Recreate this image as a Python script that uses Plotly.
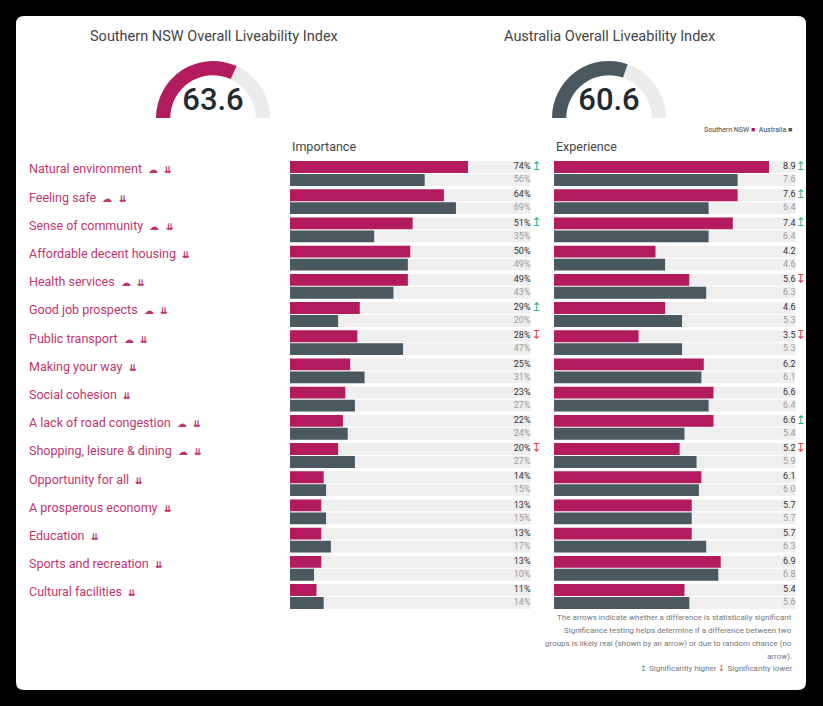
import plotly.graph_objects as go

categories = ["Natural environment", "Feeling safe", "Sense of community", "Affordable decent housing",
              "Health services", "Good job prospects", "Public transport", "Making your way",
              "Social cohesion", "A lack of road congestion", "Shopping, leisure & dining",
              "Opportunity for all", "A prosperous economy", "Education", "Sports and recreation",
              "Cultural facilities"]
has_brain = [1, 1, 1, 0, 1, 1, 1, 0, 0, 1, 1, 0, 0, 0, 0, 0]

imp_nsw = [74, 64, 51, 50, 49, 29, 28, 25, 23, 22, 20, 14, 13, 13, 13, 11]
imp_aus = [56, 69, 35, 49, 43, 20, 47, 31, 27, 24, 27, 15, 15, 17, 10, 14]
exp_nsw = [8.9, 7.6, 7.4, 4.2, 5.6, 4.6, 3.5, 6.2, 6.6, 6.6, 5.2, 6.1, 5.7, 5.7, 6.9, 5.4]
exp_aus = [7.6, 6.4, 6.4, 4.6, 6.3, 5.3, 5.3, 6.1, 6.4, 5.4, 5.9, 6.0, 5.7, 6.3, 6.8, 5.6]
imp_sig = ["up", "", "up", "", "", "up", "down", "", "", "", "down", "", "", "", "", ""]
exp_sig = ["up", "up", "up", "", "down", "", "down", "", "", "up", "down", "", "", "", "", ""]

index_nsw = 63.6
index_aus = 60.6

PINK = "#b31b5f"
GREY = "#4a5860"
TRACK = "#efefef"
UP = "#2bb389"
DOWN = "#d9434b"
W, H = 823, 706

def px(x):
    return x / W

def py(y):
    return 1 - y / H

n = len(categories)
y_top = [i - 0.23 for i in range(n)]
y_bot = [i + 0.23 for i in range(n)]

fig = go.Figure()

# panels: importance (x/y) and experience (x2/y2)
panels = [("x", "y", imp_nsw, imp_aus, imp_sig, 100, "{:.0f}%", 102.4),
          ("x2", "y2", exp_nsw, exp_aus, exp_sig, 10, "{:.1f}", 10.2)]
for xa, ya, nsw, aus, sig, full, fmt, arrow_x in panels:
    fig.add_trace(go.Bar(x=[full] * (2 * n), y=y_top + y_bot, orientation="h", width=0.42,
                         marker=dict(color=TRACK, line_width=0), xaxis=xa, yaxis=ya,
                         hoverinfo="skip"))
    fig.add_trace(go.Bar(x=nsw, y=y_top, orientation="h", width=0.42, name="Southern NSW",
                         marker=dict(color=PINK, line_width=0), xaxis=xa, yaxis=ya))
    fig.add_trace(go.Bar(x=aus, y=y_bot, orientation="h", width=0.42, name="Australia",
                         marker=dict(color=GREY, line_width=0), xaxis=xa, yaxis=ya))
    fig.add_trace(go.Scatter(x=[full] * n, y=y_top, mode="text", text=[fmt.format(v) for v in nsw],
                             textposition="middle left", cliponaxis=False,
                             textfont=dict(size=9, color="#333", family="Roboto"),
                             xaxis=xa, yaxis=ya, hoverinfo="skip"))
    fig.add_trace(go.Scatter(x=[full] * n, y=y_bot, mode="text", text=[fmt.format(v) for v in aus],
                             textposition="middle left", cliponaxis=False,
                             textfont=dict(size=9, color="#9a9a9a", family="Roboto"),
                             xaxis=xa, yaxis=ya, hoverinfo="skip"))
    ups = [y for y, s in zip(y_top, sig) if s == "up"]
    downs = [y for y, s in zip(y_top, sig) if s == "down"]
    fig.add_trace(go.Scatter(x=[arrow_x] * len(ups), y=ups, mode="text", text=["↥"] * len(ups),
                             textposition="middle center", cliponaxis=False,
                             textfont=dict(size=12, color=UP, family="DejaVu Sans"),
                             xaxis=xa, yaxis=ya, hoverinfo="skip"))
    fig.add_trace(go.Scatter(x=[arrow_x] * len(downs), y=downs, mode="text", text=["↧"] * len(downs),
                             textposition="middle center", cliponaxis=False,
                             textfont=dict(size=12, color=DOWN, family="DejaVu Sans"),
                             xaxis=xa, yaxis=ya, hoverinfo="skip"))

# gauges
for val, col, xd in [(index_nsw, PINK, [px(156), px(270)]), (index_aus, GREY, [px(552), px(666)])]:
    fig.add_trace(go.Indicator(
        mode="gauge+number", value=val,
        number=dict(font=dict(size=31, color="#1f2b30", family="Roboto", weight=500)),
        gauge=dict(shape="angular", axis=dict(range=[0, 100], visible=False),
                   bar=dict(color=col, thickness=1), bgcolor="#ebebeb", borderwidth=0),
        domain=dict(x=xd, y=[py(118), py(61)])))

y_range = [n - 1 + 0.6, -0.6]
y_dom = [py(596.5 + 0.6 * 28.2), py(173.5 - 0.6 * 28.2)]
fig.update_layout(
    width=W, height=H, margin=dict(l=0, r=0, t=0, b=0),
    paper_bgcolor="#000", plot_bgcolor="rgba(0,0,0,0)",
    barmode="overlay", showlegend=False, font=dict(family="Roboto"),
    xaxis=dict(domain=[px(290), px(290 + 2.405 * 103.5)], range=[0, 103.5], visible=False, anchor="y"),
    yaxis=dict(domain=y_dom, range=y_range, visible=False, anchor="x"),
    xaxis2=dict(domain=[px(554), px(554 + 24.16 * 10.35)], range=[0, 10.35], visible=False, anchor="y2"),
    yaxis2=dict(domain=y_dom, range=y_range, visible=False, anchor="x2"),
)

# white card
r = 8
fig.add_shape(type="path", xref="paper", yref="paper", layer="below", line_width=0, fillcolor="white",
              path=(f"M {px(16 + r)} {py(16)} L {px(806 - r)} {py(16)} Q {px(806)} {py(16)} {px(806)} {py(16 + r)} "
                    f"L {px(806)} {py(690 - r)} Q {px(806)} {py(690)} {px(806 - r)} {py(690)} "
                    f"L {px(16 + r)} {py(690)} Q {px(16)} {py(690)} {px(16)} {py(690 - r)} "
                    f"L {px(16)} {py(16 + r)} Q {px(16)} {py(16)} {px(16 + r)} {py(16)} Z"))

def note(x, y, text, size, color, xanchor="center"):
    fig.add_annotation(x=px(x), y=py(y), xref="paper", yref="paper", text=text, showarrow=False,
                       xanchor=xanchor, yanchor="middle", font=dict(size=size, color=color))

note(214, 37, "Southern NSW Overall Liveability Index", 14.5, "#444")
note(609, 37, "Australia Overall Liveability Index", 14.5, "#444")
note(290, 146, "Importance", 12.5, "#444", "left")
note(554, 146, "Experience", 12.5, "#444", "left")
note(794, 130, f"Southern NSW <span style='color:{PINK}'>■</span>  Australia <span style='color:{GREY}'>■</span>",
     7, "#444", "right")

for i, cat in enumerate(categories):
    txt = cat
    if has_brain[i]:
        txt += "  <span style='font-size:10px'>☁</span>"
    txt += "  <b style='font-size:9px'>⇊</b>"
    fig.add_annotation(x=px(27), y=i - 0.16, xref="paper", yref="y", text=txt, xanchor="left",
                       yanchor="middle", showarrow=False, font=dict(size=12.5, color="#bb3670"))

footer = ["The arrows indicate whether a difference is statistically significant",
          "Significance testing helps determine if a difference between two",
          "groups is likely real (shown by an arrow) or due to random chance (no",
          "arrow)."]
for k, line in enumerate(footer):
    note(794, 617 + 13 * k, line, 8, "#777", "right")
note(794, 668, f"<span style='color:{UP}'>↥</span> Significantly higher "
               f"<span style='color:{DOWN}'>↧</span> Significantly lower", 8, "#777", "right")

fig.write_html("out.html", config={"displayModeBar": False},
               post_script="document.body.style.margin='0';document.body.style.background='#000';")
